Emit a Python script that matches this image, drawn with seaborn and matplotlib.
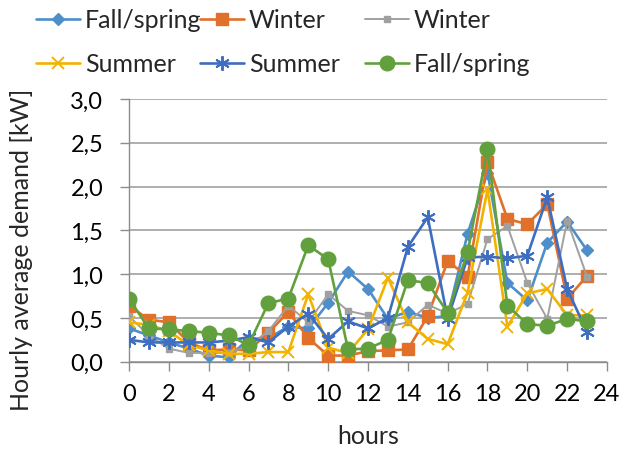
import matplotlib
matplotlib.use('Agg')
import matplotlib.pyplot as plt
import seaborn as sns
from matplotlib.ticker import FuncFormatter, MultipleLocator

hours = list(range(24))
fall_spring_diamond = [0.38, 0.30, 0.22, 0.15, 0.07, 0.05, 0.26, 0.27, 0.40, 0.38, 0.67, 1.03,
                       0.83, 0.49, 0.57, 0.50, 0.52, 1.46, 2.16, 0.90, 0.70, 1.36, 1.60, 1.27]
winter_square = [0.64, 0.48, 0.45, 0.22, 0.13, 0.14, 0.13, 0.33, 0.57, 0.27, 0.07, 0.07,
                 0.12, 0.13, 0.14, 0.52, 1.15, 0.97, 2.28, 1.63, 1.57, 1.80, 0.72, 0.98]
winter_gray = [0.52, 0.30, 0.15, 0.10, 0.10, 0.10, 0.18, 0.35, 0.64, 0.45, 0.77, 0.58,
               0.53, 0.40, 0.45, 0.65, 0.55, 0.66, 1.40, 1.55, 0.90, 0.49, 1.61, 0.97]
summer_x = [0.45, 0.42, 0.35, 0.19, 0.13, 0.09, 0.09, 0.11, 0.11, 0.77, 0.16, 0.10,
            0.37, 0.96, 0.45, 0.26, 0.20, 0.79, 1.97, 0.40, 0.78, 0.83, 0.53, 0.53]
summer_star = [0.25, 0.22, 0.22, 0.22, 0.22, 0.24, 0.28, 0.22, 0.40, 0.55, 0.26, 0.46,
               0.38, 0.50, 1.31, 1.65, 0.49, 1.19, 1.20, 1.18, 1.21, 1.88, 0.83, 0.34]
fall_spring_circle = [0.72, 0.38, 0.37, 0.35, 0.33, 0.30, 0.19, 0.67, 0.72, 1.33, 1.17, 0.14,
                      0.15, 0.25, 0.93, 0.90, 0.56, 1.25, 2.43, 0.64, 0.43, 0.41, 0.49, 0.46]

labels = ['Fall/spring', 'Winter', 'Winter', 'Summer', 'Summer', 'Fall/spring']

sns.set_theme(style='white')
plt.rcParams['font.family'] = ['Lato', 'DejaVu Sans']

fig = plt.figure(figsize=(6.21, 4.52), dpi=100)
W, H = 621, 452
ax = fig.add_axes([129 / W, 1 - 362.7 / H, (607 - 129) / W, (362.7 - 100) / H])

styles = [
    (fall_spring_diamond, '#4E8FCB', 'D', 6.3, 1.9, 1.0),
    (winter_square, '#E0702A', 's', 9.0, 1.9, 1.0),
    (winter_gray, '#A0A0A0', 's', 4.0, 1.4, 1.0),
    (summer_x, '#F2B300', 'x', 9.0, 1.9, 1.4),
    (summer_star, '#3F6DBF', (6, 2, 0), 10.5, 1.9, 1.4),
    (fall_spring_circle, '#62A03E', 'o', 10.5, 1.9, 1.0),
]
handles = []
for (vals, color, marker, ms, lw, mew), lab in zip(styles, labels):
    sns.lineplot(x=hours, y=vals, ax=ax, color=color, marker=marker, markersize=ms,
                 linewidth=lw, markeredgewidth=mew, markeredgecolor=color,
                 markerfacecolor=color, label=lab, zorder=3)
    handles.append(ax.get_lines()[-1])
if ax.get_legend() is not None:
    ax.get_legend().remove()

ax.set_xlim(0, 24)
ax.set_ylim(0, 3.0)
ax.xaxis.set_major_locator(MultipleLocator(2))
ax.yaxis.set_major_locator(MultipleLocator(0.5))
ax.yaxis.set_major_formatter(FuncFormatter(lambda v, p: f"{v:.1f}".replace('.', ',')))
ax.xaxis.set_major_formatter(FuncFormatter(lambda v, p: f"{int(round(v))}"))
ax.grid(axis='y', color='#A8A8A8', linewidth=1.3)
ax.grid(axis='x', visible=False)
for s in ['top', 'right']:
    ax.spines[s].set_visible(False)
for s in ['left', 'bottom']:
    ax.spines[s].set_color('#8C8C8C')
    ax.spines[s].set_linewidth(1.0)
ax.tick_params(axis='both', which='major', direction='out', length=6.5, width=1.0,
               color='#8C8C8C', labelsize=17, labelcolor='black',
               bottom=True, left=True)
ax.tick_params(axis='y', pad=12)
ax.tick_params(axis='x', pad=9)
ax.set_xlabel('hours', fontsize=18, labelpad=14)
ax.set_ylabel('Hourly average demand [kW]', fontsize=18)
ax.yaxis.set_label_coords((33 - 129) / 478, (362.7 - 250) / 262.7)

col_x = [33.5 / W, 197.5 / W, 362.5 / W]
for i in range(3):
    hs = [handles[i], handles[i + 3]]
    ls = [labels[i], labels[i + 3]]
    fig.legend(hs, ls, loc='upper left', bbox_to_anchor=(col_x[i], 1 - 7 / H), frameon=False,
               fontsize=18, handlelength=1.76, handletextpad=0.2, labelspacing=0.84,
               borderaxespad=0.0, borderpad=0.1)

fig.savefig('out.png', dpi=100)
